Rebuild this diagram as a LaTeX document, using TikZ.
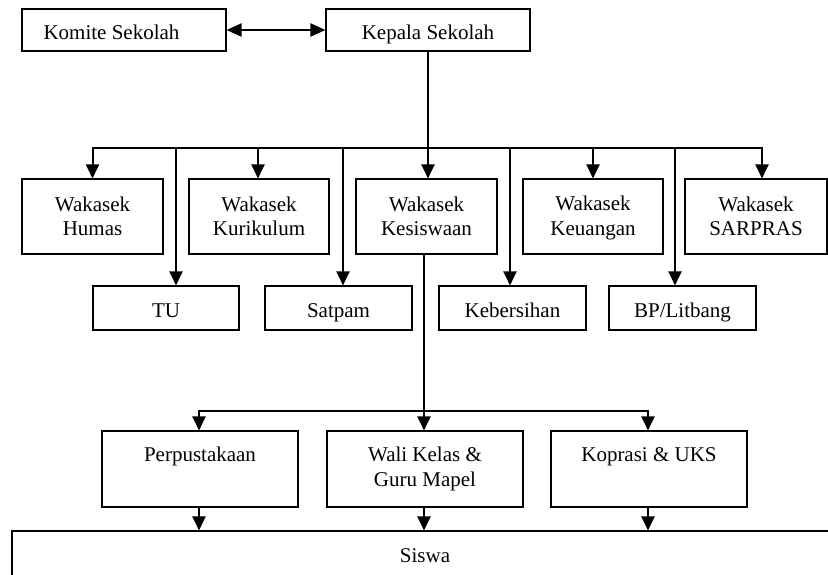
\documentclass[tikz,border=0pt]{standalone}
\usepackage{fontspec}
\setmainfont{Liberation Serif}
\usetikzlibrary{arrows.meta}
\newcommand\tstrutA{\rule{0pt}{18pt}}
\newcommand\bstrutA{\rule[-4.5pt]{0pt}{4.5pt}}
\begin{document}
\begin{tikzpicture}[x=1pt,y=-1pt,
  txt/.style={inner sep=0pt, align=center, font=\fontsize{21}{24.5}\selectfont},
  bx/.style={draw=black, line width=1.1pt, inner sep=0pt, align=center, font=\fontsize{21}{24.5}\selectfont},
  onel/.style={text height=20pt, text depth=2pt},
  topbox/.style={bx, onel, minimum width=204pt, minimum height=42pt},
  wbox/.style={bx, minimum width=#1, minimum height=75pt},
  lbox/.style={bx, onel, minimum width=147pt, minimum height=44pt},
  ubox/.style={bx, minimum width=196pt, minimum height=76pt},
  conn/.style={line width=2pt, line cap=rect},
  arr/.style={line width=2pt, -{Triangle[width=13pt,length=14pt]}},
  darr/.style={line width=2pt, {Triangle[width=13pt,length=15pt]}-{Triangle[width=13pt,length=15pt]}}
]
\useasboundingbox (0,0) rectangle (828,574);
\clip (0,0) rectangle (828,574);

% top row
\node[topbox] (komite) at (124,30) {};
\node[txt, anchor=base] (komitetxt) at (111.5,39) {Komite Sekolah};
\node[topbox] (kepala) at (428,30) {Kepala Sekolah};

% wakasek row
\node[wbox=141pt] (humas) at (92.5,216.5) {\tstrutA Wakasek\\Humas\bstrutA};
\node[wbox=140pt] (kurikulum) at (259,216.5) {\tstrutA Wakasek\\Kurikulum\bstrutA};
\node[wbox=141pt] (kesiswaan) at (426.5,216.5) {\tstrutA Wakasek\\Kesiswaan\bstrutA};
\node[wbox=140pt] (keuangan) at (593,216.5) {\tstrutA Wakasek\\Keuangan\bstrutA};
\node[wbox=142pt] (sarpras) at (756,216.5) {\tstrutA Wakasek\\SARPRAS\bstrutA};

% staff row
\node[lbox, minimum width=146pt] (tu) at (166,308) {TU};
\node[lbox] (satpam) at (338.5,308) {Satpam};
\node[lbox] (kebersihan) at (512.5,308) {Kebersihan};
\node[lbox] (bp) at (682.5,308) {BP/Litbang};

% lower row
\node[ubox] (perpus) at (200,469) {};
\node[txt, anchor=north] (perpustxt) at ([yshift=-13pt]perpus.north) {\tstrutA Perpustakaan};
\node[ubox] (wali) at (425,469) {};
\node[txt, anchor=north] (walitxt) at ([yshift=-13pt]wali.north) {\tstrutA Wali Kelas \&\\Guru Mapel};
\node[ubox] (koprasi) at (649,469) {};
\node[txt, anchor=north] (koprasitxt) at ([yshift=-13pt]koprasi.north) {\tstrutA Koprasi \& UKS};

% siswa
\node[bx, text height=14pt, text depth=2pt, minimum width=826pt, minimum height=50pt] (siswa) at (425,556) {Siswa};

% connectors
\draw[darr] (komite.east) -- (kepala.west);
\coordinate (bus) at (428,148);
\draw[conn] (humas.north |- bus) -- ([xshift=6pt]sarpras.north |- bus);
\draw[arr] (kepala.south) -- (kepala.south |- kesiswaan.north);
\draw[arr] (humas.north |- bus) -- (humas.north);
\draw[arr] ([xshift=-1pt]kurikulum.north |- bus) -- ([xshift=-1pt]kurikulum.north);
\draw[arr] (keuangan.north |- bus) -- (keuangan.north);
\draw[arr] ([xshift=6pt]sarpras.north |- bus) -- ([xshift=6pt]sarpras.north);

\draw[arr] ([xshift=10pt]tu.north |- bus) -- ([xshift=10pt]tu.north);
\draw[arr] ([xshift=4.5pt]satpam.north |- bus) -- ([xshift=4.5pt]satpam.north);
\draw[arr] ([xshift=-2.5pt]kebersihan.north |- bus) -- ([xshift=-2.5pt]kebersihan.north);
\draw[arr] ([xshift=-7.5pt]bp.north |- bus) -- ([xshift=-7.5pt]bp.north);

\coordinate (lbus) at (424,411);
\draw[conn] ([xshift=-2.5pt]kesiswaan.south) -- (lbus);
\draw[conn] ([xshift=-1pt]perpus.north |- lbus) -- ([xshift=-1pt]koprasi.north |- lbus);
\draw[arr] (lbus) -- (lbus |- wali.north);
\draw[arr] ([xshift=-1pt]perpus.north |- lbus) -- ([xshift=-1pt]perpus.north);
\draw[arr] ([xshift=-1pt]koprasi.north |- lbus) -- ([xshift=-1pt]koprasi.north);

\draw[arr] ([xshift=-1pt]perpus.south) -- ([xshift=-1pt]perpus.south |- siswa.north);
\draw[arr] ([xshift=-1pt]wali.south) -- ([xshift=-1pt]wali.south |- siswa.north);
\draw[arr] ([xshift=-1pt]koprasi.south) -- ([xshift=-1pt]koprasi.south |- siswa.north);
\end{tikzpicture}
\end{document}
